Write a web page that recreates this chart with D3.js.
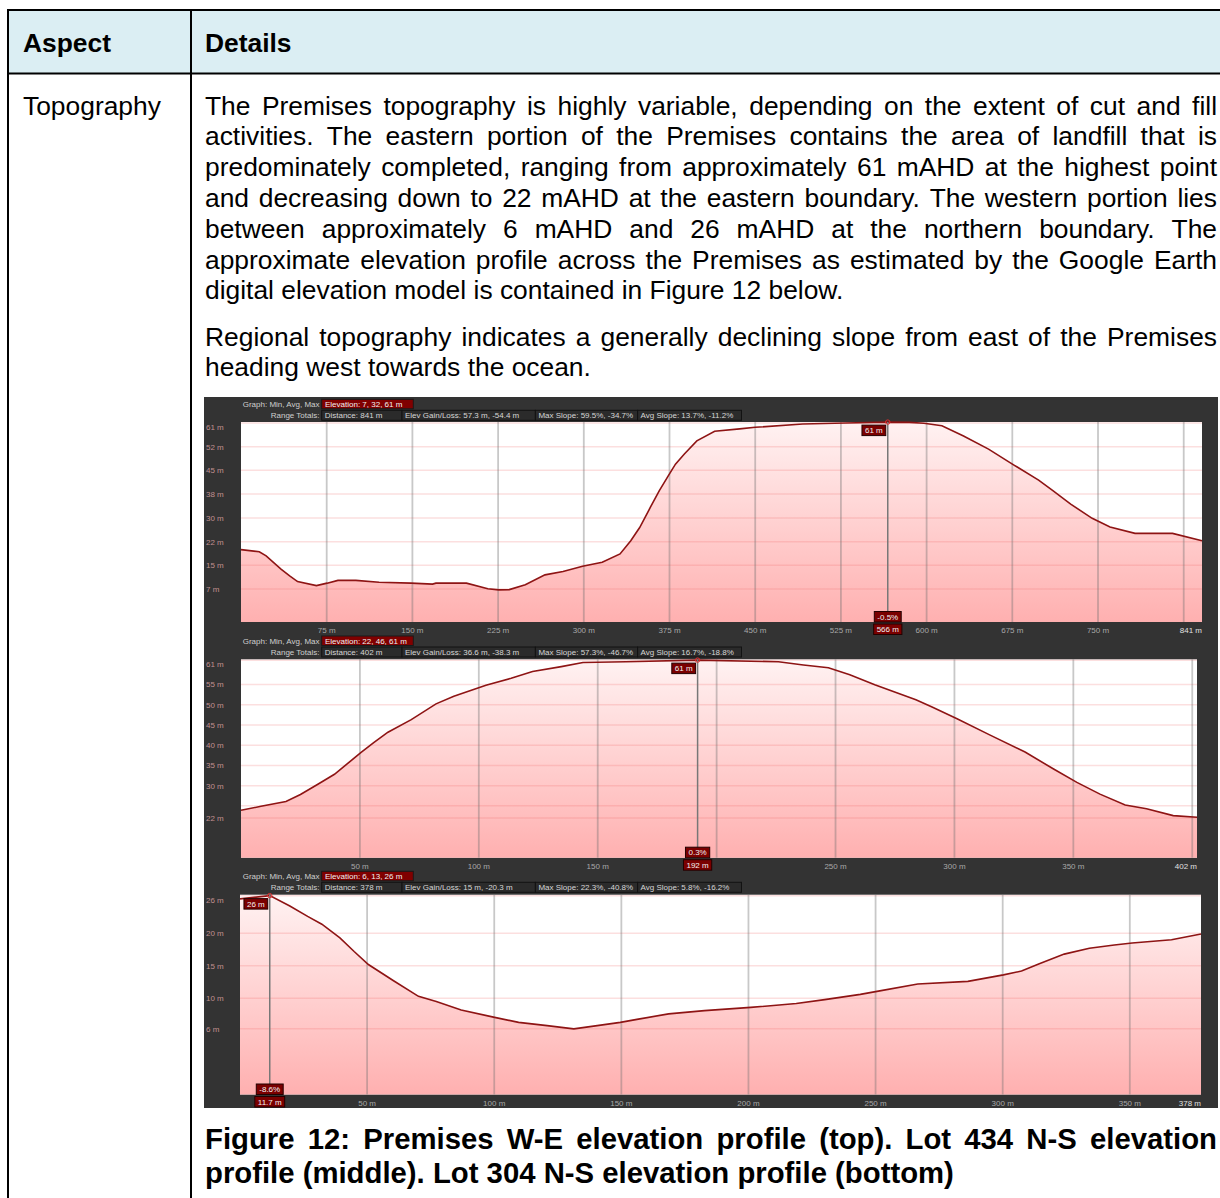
<!DOCTYPE html>
<html>
<head>
<meta charset="utf-8">
<script src="https://cdn.jsdelivr.net/npm/d3@7"></script>
<style>
  body { margin: 0; background: #fff; }
  svg { display: block; }
</style>
</head>
<body>
<div id="page"></div>
<script>
//// table text
const headCells = ["Aspect", "Details"];
const rowLabel = "Topography";
const para1 = [
  "The Premises topography is highly variable, depending on the extent of cut and fill",
  "activities. The eastern portion of the Premises contains the area of landfill that is",
  "predominately completed, ranging from approximately 61 mAHD at the highest point",
  "and decreasing down to 22 mAHD at the eastern boundary. The western portion lies",
  "between approximately 6 mAHD and 26 mAHD at the northern boundary. The",
  "approximate elevation profile across the Premises as estimated by the Google Earth",
  "digital elevation model is contained in Figure 12 below."
];
const para2 = [
  "Regional topography indicates a generally declining slope from east of the Premises",
  "heading west towards the ocean."
];
const caption = [
  "Figure 12: Premises W-E elevation profile (top). Lot 434 N-S elevation",
  "profile (middle). Lot 304 N-S elevation profile (bottom)"
];

//// profile 1 - Premises W-E (distance m, elevation m)
const p1Dist = [0, 16, 22, 35, 42.6, 49.5, 66, 75.4, 84.8, 100.5, 120.8, 148.8, 167.6, 170.6, 197.3, 216, 225.4, 234.8, 248.8, 266, 281.8, 298.9, 316.1, 331.7, 341.1, 348.9, 358.3, 366.1, 373.9, 380.2, 388, 398.9, 414.5, 436.4, 450, 491.6, 529, 566, 585, 597.7, 613.4, 632.3, 654.2, 676.1, 698, 710.5, 726.1, 744.9, 760.5, 782.4, 815.2, 841];
const p1Elev = [19.8, 19.1, 17.8, 13.5, 11.3, 9.4, 8.1, 8.9, 9.8, 9.8, 9.2, 8.9, 8.6, 8.9, 8.9, 7.1, 6.7, 6.8, 8.4, 11.6, 12.7, 14.4, 15.7, 18.4, 22.7, 27.0, 33.6, 39.0, 43.8, 47.6, 50.9, 55.2, 58.3, 59.1, 59.6, 60.7, 61.0, 61.3, 61.2, 60.9, 60.1, 56.8, 52.5, 47.4, 42.4, 39.0, 34.6, 30.0, 27.2, 25.1, 25.1, 22.7];
const p1YTicks = [61, 53.3, 45.6, 37.9, 30.1, 22.4, 14.7, 7];
const p1YLabels = ["61 m", "52 m", "45 m", "38 m", "30 m", "22 m", "15 m", "7 m"];
const p1XGrid = [75, 150, 225, 300, 375, 450, 525, 600, 675, 750, 825];
const p1XLabels = [75, 150, 225, 300, 375, 450, 525, 600, 675, 750];
const p1Stats = ["Elevation: 7, 32, 61 m", "Distance: 841 m", "Elev Gain/Loss: 57.3 m, -54.4 m", "Max Slope: 59.5%, -34.7%", "Avg Slope: 13.7%, -11.2%"];
const p1Mark = { dist: 566, elev: 61.3, elevText: "61 m", slope: "-0.5%", distText: "566 m" };

//// profile 2 - Lot 434 N-S
const p2Dist = [0, 8.4, 18.9, 25, 32.5, 39.3, 44.5, 50.5, 55.8, 61.8, 71.6, 82, 89.5, 103, 113.6, 122.6, 134.7, 143.8, 161.8, 192, 226, 236.5, 247, 256, 266.5, 283.8, 290.6, 301.1, 314.6, 329.7, 341.7, 351.5, 361.2, 371.8, 380.8, 392, 402];
const p2Elev = [23.9, 24.9, 26.1, 27.8, 30.4, 32.8, 35.3, 38.2, 40.6, 43.2, 46.3, 50.2, 52.1, 54.8, 56.5, 58.2, 59.4, 60.4, 60.6, 61, 60.6, 59.8, 59.1, 57.4, 54.9, 51.2, 49.4, 46.5, 42.6, 38.3, 34.1, 30.8, 27.9, 25.2, 24.3, 22.6, 22.2];
const p2YGrid = [61, 55, 50, 45, 40, 35, 30, 25, 22];
const p2YTicks = [61, 55, 50, 45, 40, 35, 30, 22];
const p2YLabels = ["61 m", "55 m", "50 m", "45 m", "40 m", "35 m", "30 m", "22 m"];
const p2XGrid = [50, 100, 150, 200, 250, 300, 350, 400];
const p2XLabels = [50, 100, 150, 250, 300, 350];
const p2Stats = ["Elevation: 22, 46, 61 m", "Distance: 402 m", "Elev Gain/Loss: 36.6 m, -38.3 m", "Max Slope: 57.3%, -46.7%", "Avg Slope: 16.7%, -18.8%"];
const p2Mark = { dist: 192, elev: 61, elevText: "61 m", slope: "0.3%", distText: "192 m" };

//// profile 3 - Lot 304 N-S
const p3Dist = [0, 11.7, 19.6, 26.6, 32.2, 39.3, 44.9, 50.5, 60.4, 70.2, 77.2, 87, 99.7, 109.6, 120.8, 131.3, 140.5, 149.6, 156.7, 168.6, 182.7, 200.9, 218.8, 230, 244, 251.1, 266.6, 286.3, 300.3, 307.4, 314.4, 324.2, 334.1, 343.9, 350.9, 366.4, 378];
const p3Elev = [25.3, 25.8, 24.2, 22.6, 21.4, 19.3, 17.2, 15.2, 12.7, 10.3, 9.5, 8.2, 7.1, 6.3, 5.8, 5.3, 5.8, 6.3, 6.8, 7.6, 8.1, 8.6, 9.2, 9.8, 10.6, 11.1, 12.2, 12.6, 13.6, 14.2, 15.3, 16.8, 17.7, 18.2, 18.5, 19.0, 19.9];
const p3YTicks = [25.8, 20, 15, 10, 5.3];
const p3YLabels = ["26 m", "20 m", "15 m", "10 m", "6 m"];
const p3XGrid = [50, 100, 150, 200, 250, 300, 350];
const p3XLabels = [50, 100, 150, 200, 250, 300, 350];
const p3Stats = ["Elevation: 6, 13, 26 m", "Distance: 378 m", "Elev Gain/Loss: 15 m, -20.3 m", "Max Slope: 22.3%, -40.8%", "Avg Slope: 5.8%, -16.2%"];
const p3Mark = { dist: 11.7, elev: 25.8, elevText: "26 m", slope: "-8.6%", distText: "11.7 m" };


const W = 1220, H = 1198;
const bodyFont = "'Liberation Sans', Arial, sans-serif";

const svg = d3.select("#page").append("svg")
    .attr("width", W)
    .attr("height", H);

//////// table frame
svg.append("rect")
    .attr("x", 8).attr("y", 10)
    .attr("width", W - 8).attr("height", 63.5)
    .style("fill", "#dbeef3");

const frame = svg.append("g").style("stroke", "#000").style("stroke-width", 2);
frame.append("line").attr("x1", 7).attr("x2", W).attr("y1", 10).attr("y2", 10);
frame.append("line").attr("x1", 7).attr("x2", W).attr("y1", 73.5).attr("y2", 73.5);
frame.append("line").attr("x1", 8).attr("x2", 8).attr("y1", 9).attr("y2", H);
frame.append("line").attr("x1", 191).attr("x2", 191).attr("y1", 9).attr("y2", H);

svg.append("text").text(headCells[0])
    .attr("x", 23).attr("y", 51.5)
    .style("font-family", bodyFont).style("font-size", "26.4px").style("font-weight", "bold");
svg.append("text").text(headCells[1])
    .attr("x", 205).attr("y", 51.5)
    .style("font-family", bodyFont).style("font-size", "26.4px").style("font-weight", "bold");
svg.append("text").text(rowLabel)
    .attr("x", 23).attr("y", 114.5)
    .style("font-family", bodyFont).style("font-size", "26.4px");

//// one line of text, word by word so it can be justified like Word does
function textLine(line, y, justify, size, weight) {
  const x0 = 205, x1 = 1217;
  const words = line.split(" ");
  const g = svg.append("g")
      .style("font-family", bodyFont)
      .style("font-size", size + "px")
      .style("font-weight", weight);
  const ts = words.map(w => g.append("text").text(w).attr("y", y));
  const widths = ts.map(t => t.node().getComputedTextLength());
  const total = d3.sum(widths);
  let gap = size * 0.278;
  if (justify && words.length > 1) gap = (x1 - x0 - total) / (words.length - 1);
  let x = x0;
  ts.forEach((t, i) => {
    t.attr("x", x);
    x += widths[i] + gap;
  });
}

para1.forEach((l, i) => textLine(l, 114.5 + i * 30.8, i < para1.length - 1, 26.4, "normal"));
para2.forEach((l, i) => textLine(l, 345.5 + i * 30.8, i < para2.length - 1, 26.4, "normal"));
caption.forEach((l, i) => textLine(l, 1148.5 + i * 34, i < caption.length - 1, 29.3, "bold"));

//////// the Google Earth screenshot
svg.append("rect")
    .attr("x", 204).attr("y", 397)
    .attr("width", 1014).attr("height", 711)
    .style("fill", "#333333");

const profiles = [
  { dist: p1Dist, elev: p1Elev, total: 841, yGrid: p1YTicks, yTicks: p1YTicks, yLabels: p1YLabels,
    xGrid: p1XGrid, xLabels: p1XLabels, stats: p1Stats, mark: p1Mark,
    x0: 241, x1: 1202, y0: 422, y1: 622, yDom: [-3.74, 61.33], top: 399.3 },
  { dist: p2Dist, elev: p2Elev, total: 402, yGrid: p2YGrid, yTicks: p2YTicks, yLabels: p2YLabels,
    xGrid: p2XGrid, xLabels: p2XLabels, stats: p2Stats, mark: p2Mark,
    x0: 241, x1: 1197, y0: 659.3, y1: 857.7, yDom: [12.2, 61.2], top: 636 },
  { dist: p3Dist, elev: p3Elev, total: 378, yGrid: p3YTicks, yTicks: p3YTicks, yLabels: p3YLabels,
    xGrid: p3XGrid, xLabels: p3XLabels, stats: p3Stats, mark: p3Mark,
    x0: 240, x1: 1201, y0: 894.7, y1: 1094.5, yDom: [-4.8, 25.94], top: 871.3 }
];

const small = "'Liberation Sans', Arial, sans-serif";
const defs = svg.append("defs");

//// little dark red tag with white text
function tag(g, txt, x, y, anchor) {
  const t = g.append("text").text(txt)
      .attr("y", y + 8)
      .style("font-family", small).style("font-size", "8px")
      .style("fill", "#f2f2f2");
  const w = t.node().getComputedTextLength() + 6;
  let left = x;
  if (anchor === "middle") left = x - w / 2;
  if (anchor === "end") left = x - w;
  g.insert("rect", "text:last-child")
      .attr("x", left).attr("y", y)
      .attr("width", w).attr("height", 10.5)
      .style("fill", "#7a0000")
      .style("stroke", "#240000").style("stroke-width", 1);
  t.attr("x", left + 3);
}

profiles.forEach((p, k) => {
  const data = p.dist.map((d, i) => ({ d: d, e: p.elev[i] }));
  const x = d3.scaleLinear().domain([0, p.total]).range([p.x0, p.x1]);
  const y = d3.scaleLinear().domain(p.yDom).range([p.y1, p.y0]).clamp(true);
  const g = svg.append("g");

  //// header rows of stats
  const hdr = g.append("g").style("font-family", small).style("font-size", "8px");
  hdr.append("text").text("Graph: Min, Avg, Max")
      .attr("x", 319.5).attr("y", p.top + 8).attr("text-anchor", "end").style("fill", "#cfcfcf");
  hdr.append("text").text("Range Totals:")
      .attr("x", 319.5).attr("y", p.top + 19).attr("text-anchor", "end").style("fill", "#cfcfcf");
  hdr.append("rect")
      .attr("x", 321.7).attr("y", p.top).attr("width", 91.6).attr("height", 9.5)
      .style("fill", "#800000").style("stroke", "#1a1a1a");
  hdr.append("text").text(p.stats[0])
      .attr("x", 325).attr("y", p.top + 8).style("fill", "#f0f0f0");
  const edges = [321.7, 402, 535.4, 637.6, 741.5];
  for (let i = 0; i < 4; i++) {
    hdr.append("rect")
        .attr("x", edges[i]).attr("y", p.top + 11)
        .attr("width", edges[i + 1] - edges[i]).attr("height", 10)
        .style("fill", "#2b2b2b").style("stroke", "#121212");
    hdr.append("text").text(p.stats[i + 1])
        .attr("x", edges[i] + 3).attr("y", p.top + 19).style("fill", "#d6d6d6");
  }

  //// plot background + fill
  const grad = defs.append("linearGradient")
      .attr("id", "fillGrad" + k)
      .attr("gradientUnits", "userSpaceOnUse")
      .attr("x1", 0).attr("x2", 0).attr("y1", p.y0).attr("y2", p.y1);
  grad.append("stop").attr("offset", "0%").attr("stop-color", "#fff2f2");
  grad.append("stop").attr("offset", "100%").attr("stop-color", "#ffb0b0");

  g.append("rect")
      .attr("x", p.x0).attr("y", p.y0)
      .attr("width", p.x1 - p.x0).attr("height", p.y1 - p.y0)
      .style("fill", "#fff");

  const area = d3.area().x(d => x(d.d)).y0(p.y1).y1(d => y(d.e));
  g.append("path").datum(data)
      .attr("d", area)
      .style("fill", `url(#fillGrad${k})`);

  //// horizontal grid (pink)
  g.selectAll(".hgrid").data(p.yGrid).enter().append("line")
      .attr("x1", p.x0).attr("x2", p.x1)
      .attr("y1", d => Math.max(y(d), p.y0 + 1)).attr("y2", d => Math.max(y(d), p.y0 + 1))
      .style("stroke", "rgba(240,110,110,0.22)").style("stroke-width", 1.5);

  //// vertical grid (grey)
  g.selectAll(".vgrid").data(p.xGrid).enter().append("line")
      .attr("x1", d => x(d)).attr("x2", d => x(d))
      .attr("y1", p.y0).attr("y2", p.y1)
      .style("stroke", "rgba(110,110,110,0.38)").style("stroke-width", 1.8);

  //// profile line
  g.append("path").datum(data)
      .attr("d", d3.line().x(d => x(d.d)).y(d => y(d.e)))
      .style("fill", "none").style("stroke", "#8e1414").style("stroke-width", 1.6);

  //// y labels
  g.selectAll(".ylab").data(p.yTicks).enter().append("text")
      .text((d, i) => p.yLabels[i])
      .attr("x", 206)
      .attr("y", d => Math.max(y(d), p.y0 + 5) + 3)
      .style("font-family", small).style("font-size", "8px")
      .style("fill", "#c09090");

  //// x labels
  g.selectAll(".xlab").data(p.xLabels).enter().append("text")
      .text(d => d + " m")
      .attr("x", d => x(d))
      .attr("y", p.y1 + 11)
      .attr("text-anchor", "middle")
      .style("font-family", small).style("font-size", "8px")
      .style("fill", "#a8a8a8");
  g.append("text").text(p.total + " m")
      .attr("x", p.x1).attr("y", p.y1 + 11)
      .attr("text-anchor", "end")
      .style("font-family", small).style("font-size", "8px")
      .style("fill", "#e0e0e0");

  //// highlighted position
  const mx = x(p.mark.dist);
  g.append("line")
      .attr("x1", mx).attr("x2", mx).attr("y1", p.y0).attr("y2", p.y1)
      .style("stroke", "#777").style("stroke-width", 1.5);
  g.append("circle")
      .attr("cx", mx).attr("cy", y(p.mark.elev)).attr("r", 2.2)
      .style("fill", "none").style("stroke", "#e03030").style("stroke-width", 1);
  tag(g.append("g"), p.mark.elevText, mx - 2, Math.max(y(p.mark.elev), p.y0) + 3, "end");
  tag(g.append("g"), p.mark.slope, mx, p.y1 - 10.5, "middle");
  tag(g.append("g"), p.mark.distText, mx, p.y1 + 2, "middle");
});
</script>
</body>
</html>
